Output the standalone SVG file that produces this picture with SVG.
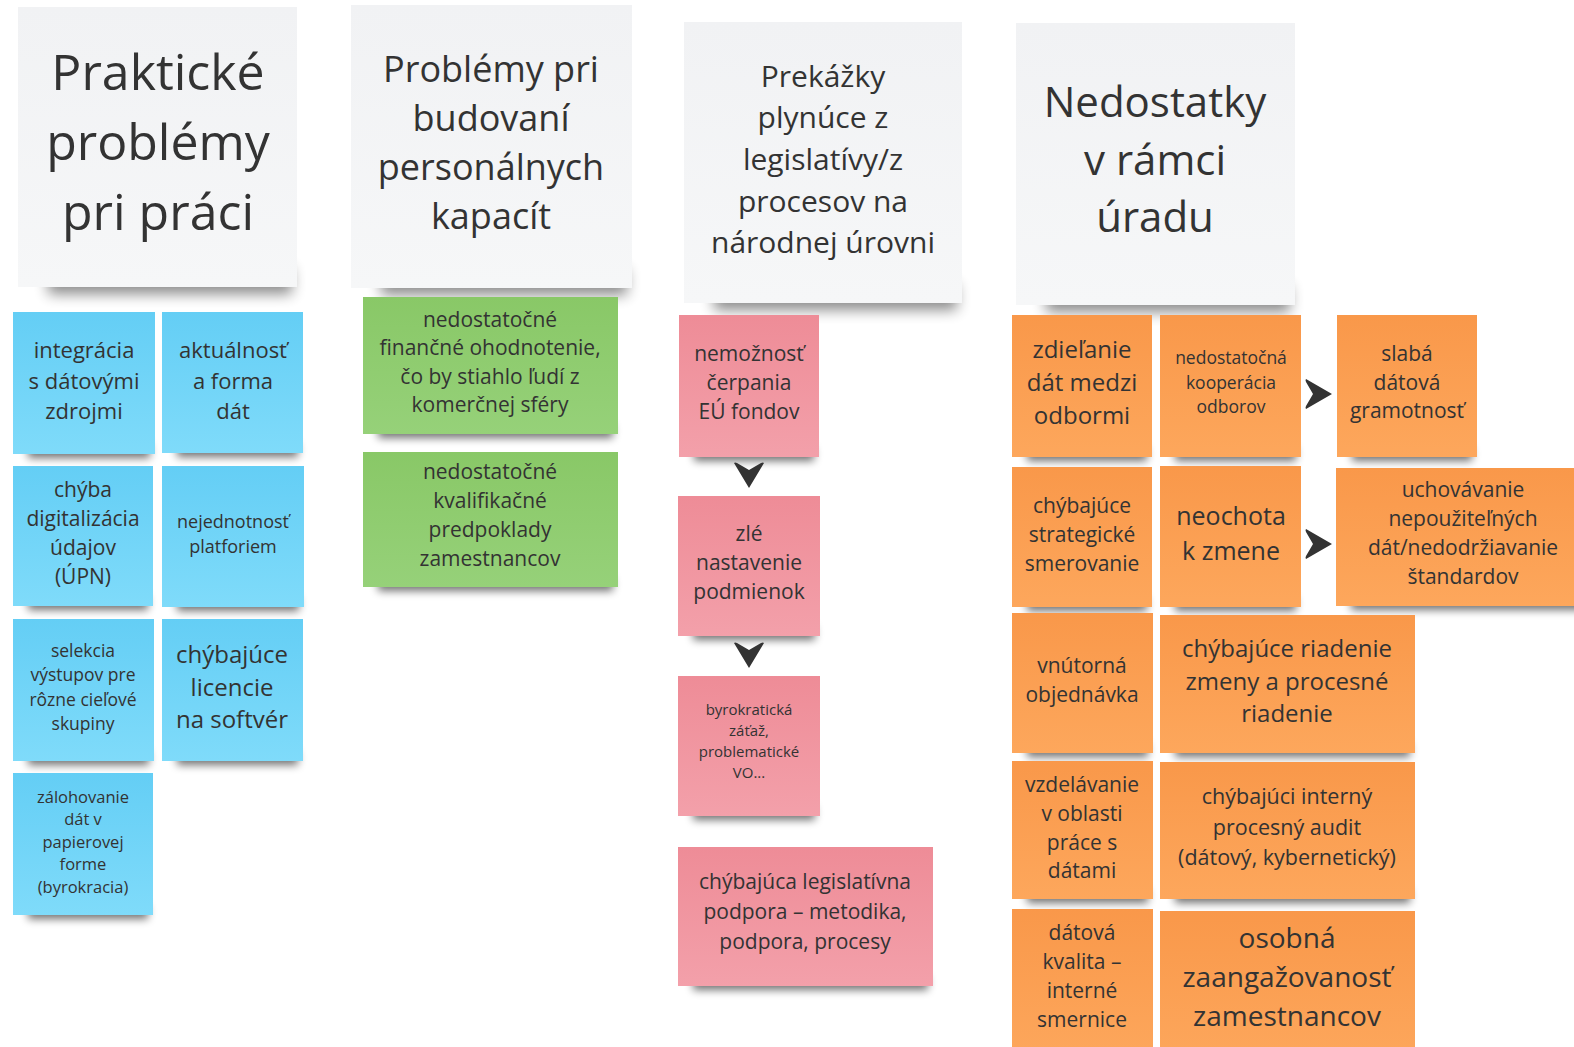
<svg xmlns="http://www.w3.org/2000/svg" width="1574" height="1047" viewBox="0 0 1574 1047">
<defs>
<style>
.t{font-family:"Open Sans","Noto Sans","Liberation Sans",sans-serif;fill:#333;text-anchor:middle}
.sh{fill:#000;opacity:.55;filter:url(#blur)}
.hsh{fill:#000;opacity:.45;filter:url(#blur2)}
.hd{fill:url(#gH)}
.bl{fill:url(#gB)}
.gr{fill:url(#gG)}
.pk{fill:url(#gP)}
.or{fill:url(#gO)}
.ar{fill:#333}
</style>
<filter id="blur" x="-20%" y="-100%" width="140%" height="300%"><feGaussianBlur stdDeviation="4"/></filter>
<filter id="blur2" x="-20%" y="-100%" width="140%" height="300%"><feGaussianBlur stdDeviation="7"/></filter>
<linearGradient id="gH" x1="0" y1="0" x2="0" y2="1"><stop offset="0" stop-color="#f1f2f4"/><stop offset="1" stop-color="#f6f7f8"/></linearGradient>
<linearGradient id="gB" x1="0" y1="0" x2="0" y2="1"><stop offset="0" stop-color="#64cef5"/><stop offset="1" stop-color="#7fdbfa"/></linearGradient>
<linearGradient id="gG" x1="0" y1="0" x2="0" y2="1"><stop offset="0" stop-color="#89c867"/><stop offset="1" stop-color="#96d179"/></linearGradient>
<linearGradient id="gP" x1="0" y1="0" x2="0" y2="1"><stop offset="0" stop-color="#ee8c97"/><stop offset="1" stop-color="#f3a0aa"/></linearGradient>
<linearGradient id="gO" x1="0" y1="0" x2="0" y2="1"><stop offset="0" stop-color="#f9984a"/><stop offset="1" stop-color="#fda75c"/></linearGradient>
<path id="aDown" d="M-15,-12 Q-14,-13 -12,-12 L0,-5 L12,-12 Q14,-13 15,-12 L0,13 Z"/>
<path id="aRight" d="M-12,-15 Q-13,-14 -12,-12 L-5,0 L-12,12 Q-13,14 -12,15 L14,0 Z"/>
</defs>
<rect width="1574" height="1047" fill="#fff"/>

<g id="header-1">
<rect class="hsh" x="48" y="268" width="244" height="26"/>
<rect class="hd" x="18" y="7" width="279" height="280"/>
<text class="t" font-size="50"><tspan x="158" y="90">Praktické</tspan><tspan x="158" y="160">problémy</tspan><tspan x="158" y="230">pri práci</tspan></text>
</g>
<g id="header-2">
<rect class="hsh" x="381" y="269" width="246" height="26"/>
<rect class="hd" x="351" y="5" width="281" height="283"/>
<text class="t" font-size="36"><tspan x="491" y="82">Problémy pri</tspan><tspan x="491" y="131">budovaní</tspan><tspan x="491" y="180">personálnych</tspan><tspan x="491" y="229">kapacít</tspan></text>
</g>
<g id="header-3">
<rect class="hsh" x="714" y="284" width="243" height="26"/>
<rect class="hd" x="684" y="22" width="278" height="281"/>
<text class="t" font-size="30"><tspan x="823" y="87">Prekážky</tspan><tspan x="823" y="128">plynúce z</tspan><tspan x="823" y="170">legislatívy/z</tspan><tspan x="823" y="212">procesov na</tspan><tspan x="823" y="253">národnej úrovni</tspan></text>
</g>
<g id="header-4">
<rect class="hsh" x="1046" y="286" width="244" height="26"/>
<rect class="hd" x="1016" y="23" width="279" height="282"/>
<text class="t" font-size="42"><tspan x="1155" y="117">Nedostatky</tspan><tspan x="1155" y="175">v rámci</tspan><tspan x="1155" y="232">úradu</tspan></text>
</g>

<g id="note-integracia">
<rect class="sh" x="28" y="444" width="122" height="14"/>
<rect class="bl" x="13" y="312" width="142" height="142"/>
<text class="t" font-size="22"><tspan x="84" y="358">integrácia</tspan><tspan x="84" y="389">s dátovými</tspan><tspan x="84" y="419">zdrojmi</tspan></text>
</g>
<g id="note-aktualnost">
<rect class="sh" x="177" y="443" width="121" height="14"/>
<rect class="bl" x="162" y="312" width="141" height="141"/>
<text class="t" font-size="22"><tspan x="233" y="358">aktuálnosť</tspan><tspan x="233" y="389">a forma</tspan><tspan x="233" y="419">dát</tspan></text>
</g>
<g id="note-chyba-digitalizacia">
<rect class="sh" x="28" y="596" width="120" height="14"/>
<rect class="bl" x="13" y="466" width="140" height="140"/>
<text class="t" font-size="21"><tspan x="83" y="497">chýba</tspan><tspan x="83" y="526">digitalizácia</tspan><tspan x="83" y="555">údajov</tspan><tspan x="83" y="584">(ÚPN)</tspan></text>
</g>
<g id="note-nejednotnost">
<rect class="sh" x="177" y="597" width="122" height="14"/>
<rect class="bl" x="162" y="466" width="142" height="141"/>
<text class="t" font-size="18"><tspan x="233" y="528">nejednotnosť</tspan><tspan x="233" y="553">platforiem</tspan></text>
</g>
<g id="note-selekcia">
<rect class="sh" x="28" y="751" width="121" height="14"/>
<rect class="bl" x="13" y="619" width="141" height="142"/>
<text class="t" font-size="17.5"><tspan x="83" y="657">selekcia</tspan><tspan x="83" y="681">výstupov pre</tspan><tspan x="83" y="706">rôzne cieľové</tspan><tspan x="83" y="730">skupiny</tspan></text>
</g>
<g id="note-licencie">
<rect class="sh" x="177" y="751" width="121" height="14"/>
<rect class="bl" x="162" y="619" width="141" height="142"/>
<text class="t" font-size="24"><tspan x="232" y="663">chýbajúce</tspan><tspan x="232" y="696">licencie</tspan><tspan x="232" y="728">na softvér</tspan></text>
</g>
<g id="note-zalohovanie">
<rect class="sh" x="28" y="905" width="120" height="14"/>
<rect class="bl" x="13" y="773" width="140" height="142"/>
<text class="t" font-size="16.5"><tspan x="83" y="803">zálohovanie</tspan><tspan x="83" y="825">dát v</tspan><tspan x="83" y="848">papierovej</tspan><tspan x="83" y="870">forme</tspan><tspan x="83" y="893">(byrokracia)</tspan></text>
</g>

<g id="note-financne">
<rect class="sh" x="378" y="424" width="235" height="14"/>
<rect class="gr" x="363" y="297" width="255" height="137"/>
<text class="t" font-size="21"><tspan x="490" y="327">nedostatočné</tspan><tspan x="490" y="355">finančné ohodnotenie,</tspan><tspan x="490" y="384">čo by stiahlo ľudí z</tspan><tspan x="490" y="412">komerčnej sféry</tspan></text>
</g>
<g id="note-kvalifikacne">
<rect class="sh" x="378" y="577" width="235" height="14"/>
<rect class="gr" x="363" y="452" width="255" height="135"/>
<text class="t" font-size="21"><tspan x="490" y="479">nedostatočné</tspan><tspan x="490" y="508">kvalifikačné</tspan><tspan x="490" y="537">predpoklady</tspan><tspan x="490" y="566">zamestnancov</tspan></text>
</g>

<g id="note-eu-fondy">
<rect class="sh" x="694" y="447" width="120" height="14"/>
<rect class="pk" x="679" y="315" width="140" height="142"/>
<text class="t" font-size="21"><tspan x="749" y="361">nemožnosť</tspan><tspan x="749" y="390">čerpania</tspan><tspan x="749" y="419">EÚ fondov</tspan></text>
</g>
<g id="note-podmienky">
<rect class="sh" x="693" y="626" width="122" height="14"/>
<rect class="pk" x="678" y="496" width="142" height="140"/>
<text class="t" font-size="21"><tspan x="749" y="541">zlé</tspan><tspan x="749" y="570">nastavenie</tspan><tspan x="749" y="599">podmienok</tspan></text>
</g>
<g id="note-byrokracia">
<rect class="sh" x="693" y="806" width="122" height="14"/>
<rect class="pk" x="678" y="676" width="142" height="140"/>
<text class="t" font-size="15"><tspan x="749" y="715">byrokratická</tspan><tspan x="749" y="736">záťaž,</tspan><tspan x="749" y="757">problematické</tspan><tspan x="749" y="778">VO...</tspan></text>
</g>
<g id="note-legislativa">
<rect class="sh" x="693" y="976" width="235" height="14"/>
<rect class="pk" x="678" y="847" width="255" height="139"/>
<text class="t" font-size="21"><tspan x="805" y="889">chýbajúca legislatívna</tspan><tspan x="805" y="919">podpora – metodika,</tspan><tspan x="805" y="949">podpora, procesy</tspan></text>
</g>

<g id="note-zdielanie">
<rect class="sh" x="1027" y="447" width="120" height="14"/>
<rect class="or" x="1012" y="315" width="140" height="142"/>
<text class="t" font-size="24"><tspan x="1082" y="358">zdieľanie</tspan><tspan x="1082" y="391">dát medzi</tspan><tspan x="1082" y="424">odbormi</tspan></text>
</g>
<g id="note-kooperacia">
<rect class="sh" x="1175" y="447" width="121" height="14"/>
<rect class="or" x="1160" y="315" width="141" height="142"/>
<text class="t" font-size="17.5"><tspan x="1231" y="364">nedostatočná</tspan><tspan x="1231" y="389">kooperácia</tspan><tspan x="1231" y="413">odborov</tspan></text>
</g>
<g id="note-gramotnost">
<rect class="sh" x="1352" y="447" width="120" height="14"/>
<rect class="or" x="1337" y="315" width="140" height="142"/>
<text class="t" font-size="21"><tspan x="1407" y="361">slabá</tspan><tspan x="1407" y="390">dátová</tspan><tspan x="1407" y="418">gramotnosť</tspan></text>
</g>
<g id="note-strategicke">
<rect class="sh" x="1027" y="597" width="120" height="14"/>
<rect class="or" x="1012" y="467" width="140" height="140"/>
<text class="t" font-size="21"><tspan x="1082" y="513">chýbajúce</tspan><tspan x="1082" y="542">strategické</tspan><tspan x="1082" y="571">smerovanie</tspan></text>
</g>
<g id="note-neochota">
<rect class="sh" x="1175" y="597" width="121" height="14"/>
<rect class="or" x="1160" y="466" width="141" height="141"/>
<text class="t" font-size="25"><tspan x="1231" y="525">neochota</tspan><tspan x="1231" y="560">k zmene</tspan></text>
</g>
<g id="note-uchovavanie">
<rect class="sh" x="1351" y="596" width="234" height="14"/>
<rect class="or" x="1336" y="468" width="254" height="138"/>
<text class="t" font-size="21"><tspan x="1463" y="497">uchovávanie</tspan><tspan x="1463" y="526">nepoužiteľných</tspan><tspan x="1463" y="555">dát/nedodržiavanie</tspan><tspan x="1463" y="584">štandardov</tspan></text>
</g>
<g id="note-objednavka">
<rect class="sh" x="1027" y="743" width="121" height="14"/>
<rect class="or" x="1012" y="613" width="141" height="140"/>
<text class="t" font-size="21"><tspan x="1082" y="673">vnútorná</tspan><tspan x="1082" y="702">objednávka</tspan></text>
</g>
<g id="note-riadenie">
<rect class="sh" x="1175" y="743" width="235" height="14"/>
<rect class="or" x="1160" y="615" width="255" height="138"/>
<text class="t" font-size="24"><tspan x="1287" y="657">chýbajúce riadenie</tspan><tspan x="1287" y="690">zmeny a procesné</tspan><tspan x="1287" y="722">riadenie</tspan></text>
</g>
<g id="note-vzdelavanie">
<rect class="sh" x="1027" y="889" width="121" height="14"/>
<rect class="or" x="1012" y="761" width="141" height="138"/>
<text class="t" font-size="21"><tspan x="1082" y="792">vzdelávanie</tspan><tspan x="1082" y="821">v oblasti</tspan><tspan x="1082" y="850">práce s</tspan><tspan x="1082" y="878">dátami</tspan></text>
</g>
<g id="note-audit">
<rect class="sh" x="1175" y="889" width="235" height="14"/>
<rect class="or" x="1160" y="762" width="255" height="137"/>
<text class="t" font-size="21.5"><tspan x="1287" y="804">chýbajúci interný</tspan><tspan x="1287" y="835">procesný audit</tspan><tspan x="1287" y="865">(dátový, kybernetický)</tspan></text>
</g>
<g id="note-kvalita">
<rect class="or" x="1012" y="909" width="141" height="150"/>
<text class="t" font-size="21"><tspan x="1082" y="940">dátová</tspan><tspan x="1082" y="969">kvalita –</tspan><tspan x="1082" y="998">interné</tspan><tspan x="1082" y="1027">smernice</tspan></text>
</g>
<g id="note-zaangazovanost">
<rect class="or" x="1160" y="911" width="255" height="150"/>
<text class="t" font-size="28"><tspan x="1287" y="948">osobná</tspan><tspan x="1287" y="987">zaangažovanosť</tspan><tspan x="1287" y="1026">zamestnancov</tspan></text>
</g>

<g id="connectors">
<use href="#aDown" class="ar" x="749" y="475"/>
<use href="#aDown" class="ar" x="749" y="655"/>
<use href="#aRight" class="ar" x="1318" y="394"/>
<use href="#aRight" class="ar" x="1318" y="544"/>
</g>
</svg>
